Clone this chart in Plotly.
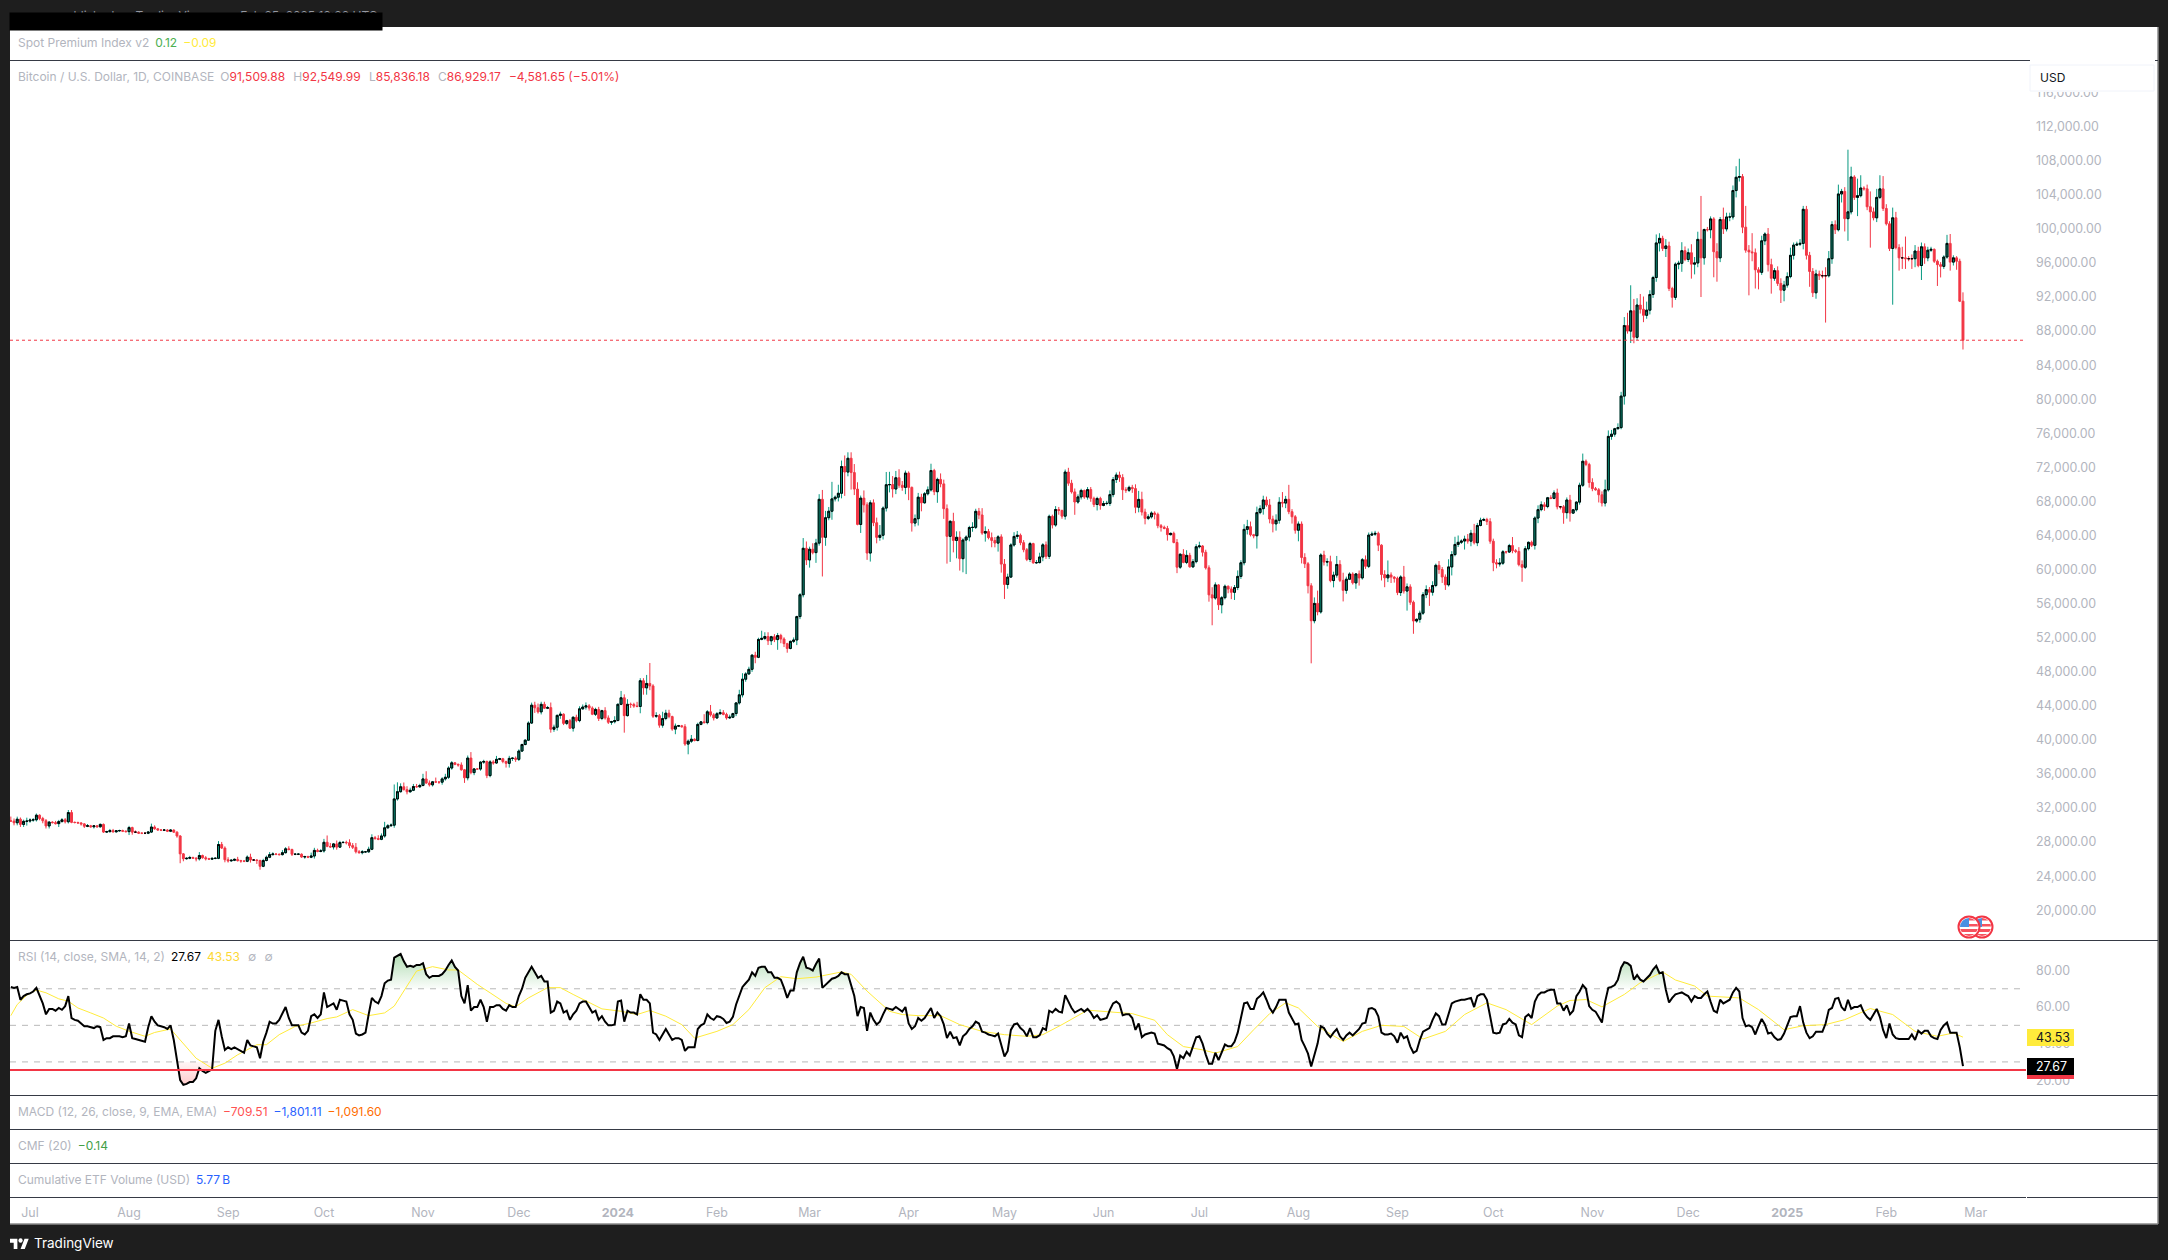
import base64
import numpy as np
import pandas as pd
import plotly.graph_objects as go

W, H = 2168, 1260
first_day = "2023-06-25"
tick_epoch = "2023-07-01"

# Daily closes, thousands of USD, read month by month
closes_2023 = [
 30.47,30.27,30.69,30.08,30.44,30.47,
 30.59,30.62,31.16,30.77,30.51,29.9,30.35,30.29,30.17,30.41, 30.62,30.39,31.47,30.32,30.3,30.25,30.14,29.86,29.92,29.8, 29.91,29.8,30.08,29.18,29.23,29.35,29.21,29.32,29.36,29.28,29.23,
 29.71,29.17,29.17,29.05,29.04,29.04,29.18,29.77,29.56,29.43, 29.4,29.42,29.28,29.41,29.17,28.72,26.62,26.05,26.1,26.19, 26.12,26.04,26.43,26.16,26.05,26.0,26.09,26.1,27.72,27.3,25.93,
 25.8,25.87,25.97,25.82,25.78,25.75,26.24,25.9,25.9,25.84, 25.16,25.84,26.22,26.53,26.6,26.57,26.53,26.76,27.21,27.13, 26.57,26.58,26.58,26.25,26.3,26.22,26.37,27.03,26.91,26.97,
 27.98,27.5,27.43,27.79,27.41,27.95,27.97,27.93,27.59,27.39, 26.87,26.76,26.86,26.86,27.16,28.52,28.41,28.33,28.72,29.68, 29.92,29.99,33.07,33.92,34.5,34.16,33.91,34.09,34.53,34.49,34.65,
 35.42,34.94,34.73,35.08,35.05,35.04,35.42,35.62,36.7,37.31, 37.13,37.06,36.49,35.55,37.87,36.16,36.59,36.58,37.39,37.47, 35.81,37.42,37.29,37.72,37.79,37.46,37.25,37.83,37.85,37.72,
 38.69,39.46,39.97,41.98,44.08,43.77,43.29,44.18,43.72,43.79, 41.25,41.49,42.88,43.02,41.94,42.26,41.38,42.66,42.27,43.65, 43.86,44.0,43.74,43.01,43.58,42.52,43.44,42.58,42.07,42.14,42.28,
]
closes_2024 = [
 44.18,44.95,42.85,44.18,44.16,43.97,43.93,46.95,46.11,46.63, 46.34,42.78,42.85,41.73,42.51,43.14,42.74,41.27,41.62,41.66, 41.55,39.51,39.85,40.08,39.93,41.82,42.12,42.03,43.3,42.94,42.58,
 43.07,43.2,42.99,42.58,42.66,43.09,44.34,45.29,47.13,47.75, 48.29,49.95,49.7,51.8,51.92,52.14,51.64,52.12,51.78,52.26, 51.85,51.3,50.74,51.57,51.73,54.48,57.04,62.5,61.13,
 62.39,61.99,63.11,68.25,63.79,66.09,66.85,68.3,68.5,68.96, 72.1,71.45,73.07,71.39,69.45,65.3,68.39,67.6,61.94,67.84, 65.5,63.78,64.03,67.22,69.96,69.98,69.46,70.78,69.9,69.65,71.33,
 69.65,65.46,65.97,68.5,67.84,68.9,69.36,71.63,69.14,70.59, 70.06,67.15,63.9,65.67,63.42,63.79,61.28,63.47,63.82,64.94, 64.96,66.84,66.41,64.28,64.47,63.75,63.42,63.11,63.84,60.64,
 58.25,59.12,62.89,63.89,64.03,63.16,62.33,61.19,63.05,60.79, 60.82,61.48,62.9,61.55,66.25,65.23,67.05,66.94,66.27,71.45, 70.14,69.12,67.93,68.53,69.29,68.51,69.39,68.36,67.64,68.35,67.53,
 67.76,67.77,68.8,70.57,71.1,70.8,69.37,69.31,69.65,69.51, 67.32,68.24,66.75,66.01,66.19,66.64,66.49,65.15,64.96,64.83, 64.1,64.25,63.18,60.28,61.8,60.84,61.67,60.32,60.93,62.68,
 62.77,62.03,60.2,57.03,56.66,58.2,55.86,56.7,58.04,57.72, 57.33,57.89,59.2,60.8,64.72,65.04,64.09,63.97,66.69,67.15, 68.17,67.58,65.93,65.37,65.79,67.9,67.81,68.25,66.8,66.2,64.62,
 65.35,61.42,60.68,58.1,53.99,56.03,55.03,61.71,60.88,60.93, 58.71,59.35,60.6,58.73,57.56,58.87,59.48,58.44,59.49,59.02, 61.16,60.38,64.05,64.16,64.25,62.87,59.42,59.03,59.37,59.12,58.97,
 57.3,59.13,57.48,57.97,56.16,53.96,54.16,54.88,57.05,57.65, 57.34,58.13,60.5,60.0,59.13,58.21,60.31,61.76,62.95,63.2, 63.35,63.58,63.34,64.26,63.15,65.18,65.79,65.88,65.63,63.33,
 60.81,60.65,60.75,62.09,62.06,62.82,62.22,62.13,60.58,60.27, 62.45,63.2,62.85,66.05,67.04,67.61,67.4,68.43,68.36,69.0, 67.37,67.37,66.68,68.17,66.63,67.02,67.92,69.9,72.72,72.34,70.22,
 69.5,69.37,68.78,67.81,69.36,75.64,75.9,76.54,76.67,80.37, 88.65,88.0,90.38,87.27,91.06,90.56,89.85,90.46,92.3,94.29, 98.35,98.89,97.7,98.0,93.0,91.96,95.86,95.96,97.44,96.41,
 97.2,95.86,96.0,98.77,96.6,99.93,99.9,101.17,97.32,96.6, 101.1,100.0,101.4,101.4,104.5,106.06,106.14,100.2,97.5,97.3, 97.2,95.2,94.9,98.6,99.4,95.8,94.2,95.1,93.6,92.8,93.4,
]
closes_2025 = [
 94.4,96.9,98.1,98.2,98.3,102.3,96.9,95.0,92.5,94.7, 94.5,94.5,94.5,96.5,100.5,99.9,104.1,104.4,101.2,102.0, 106.1,103.7,103.9,104.8,104.7,102.6,102.0,101.3,103.7,104.7,102.4,
 100.6,97.7,101.3,97.8,96.6,96.6,96.5,96.5,96.5,97.4, 95.7,97.9,96.6,97.5,97.6,96.2,95.8,95.6,96.7,98.3, 96.1,96.6,96.2,91.51,86.93,
]
# Upper wick above the body, thousands of USD
upper_2023 = [
 .5,.3,.3,.2,.2,.4,
 .2,.2,.2,.1,.2,.2,.1,.1,.2,.2, .2,.2,.3,.3,.1,.1,.1,.1,.2,.1, .1,.1,.1,.1,.1,.2,.2,.1,.1,.1,.1,
 .2,.1,.2,.1,.1,.1,.1,.4,.2,.1, .1,.1,.1,.1,.1,.1,.1,.1,.1,.2, .1,.1,.4,.1,.2,.1,.1,.1,.4,.3,.2,
 .3,.1,.1,.3,.1,.1,.2,.4,.1,.1, .1,.2,.2,.3,.2,.1,.1,.3,.2,.3, .1,.1,.1,.1,.1,.1,.4,.3,.2,.2,
 .4,.8,.4,.1,.4,.2,.1,.2,.4,.3, .5,.2,.2,.1,.3,.4,.2,.4,.3,.7, .2,.2,1.7,1.1,.4,.5,.4,.3,.3,.3,.2,
 .6,.9,.3,.1,.5,.1,.2,.4,.2,.2, .1,.1,.3,.1,.3,.7,.1,.1,.1,.2, .1,.2,.2,.4,.1,.1,.1,.3,.1,.2,
 .2,.1,.1,.2,.3,.4,.5,.3,.3,.2, .6,.3,.1,.3,.1,.1,.2,.1,.3,.3, .3,.4,.2,.2,.2,.3,.1,.4,.3,.1,.5,
]
upper_2024 = [
 .1,.8,.4,.6,.2,.2,.5,.3,.3,1.0, 2.4,.2,.4,.2,.8,.4,.4,.1,.3,.1, .1,.3,.2,.5,.1,.2,.1,.9,.2,.8,.2,
 .2,.4,.3,.2,.3,.1,.1,.6,.7,.2, .3,.1,.4,.2,.9,.5,.5,.1,.3,.3, .2,.2,.1,.1,.3,.1,.2,1.2,.8,
 .3,.7,.5,.6,1.1,.8,.5,2.0,.2,1.0, .7,1.3,.7,.7,1.0,.8,.3,.9,.3,.3, .4,.6,1.2,.2,1.5,1.5,1.0,.8,1.0,.5,.3,
 .2,.1,.5,.5,.4,.2,.4,.8,.2,.2, .7,.5,.5,.1,1.0,.7,.7,.2,.2,.2, .6,.3,.4,.8,.6,.3,.6,.4,.2,.3,
 .6,.4,.2,.5,.5,.2,.3,.2,.2,.1, .3,.5,.2,.4,.2,.2,.4,.3,.1,.3, .5,.4,.4,.3,.2,.1,.3,.3,.2,.2,.2,
 .3,.3,.5,.3,.3,.4,.4,.3,.2,.3, .5,1.0,.9,.4,.3,.2,.2,.2,.2,.2, .3,.1,.2,.4,.1,.6,.6,.3,.3,.3,
 .5,.1,.3,.3,.9,.3,.1,.2,.2,.1, .3,.3,.7,.3,.6,.8,.6,.1,.7,.4, .5,.4,.7,.4,.7,.6,1.2,.4,1.7,.3,.2,
 .3,.3,.5,.2,.3,.7,1.5,.2,.5,.4, .7,.4,1.0,.5,.9,.3,.2,.2,.1,.4, .2,.5,.3,.3,.3,.2,.1,.5,1.7,.3,.1,
 .2,.2,1.3,.4,.3,.2,.1,.3,.3,.5, .3,.5,.2,.5,.3,.3,.9,.4,.9,.8, .2,.4,.6,.4,1.1,.3,.3,.2,.2,.4,
 .3,.4,.6,.2,.1,.2,1.0,.2,.5,.5, .3,.1,.2,.2,.5,.4,.3,.1,.3,.3, .5,.1,.2,.3,.6,.1,.1,.3,.9,.2,.2,
 .5,.2,.2,.4,1.2,.7,.5,.1,.5,.5, 1.0,1.5,3.0,1.4,.8,1.3,1.5,1.0,.5,.2, 1.0,.6,.3,.8,.5,.2,.2,.3,1.0,.5,
 .5,1.0,.7,.9,5.1,.1,.3,.3,.2,1.0, .3,1.4,.5,.5,.6,1.3,2.1,.3,2.5,.6, 2.2,.5,.3,.6,.2,.7,.7,.3,.5,.6,.5,
]
upper_2025 = [
 .5,.9,.3,.3,.5,.4,.4,.4,.4,.5, .4,.6,1.0,.9,.4,.5,1.1,.3,.5,7.3, 1.2,.2,2.0,1.5,.2,.5,1.8,.5,1.0,1.6,1.5,
 .5,.3,1.2,.7,.4,1.3,2.5,.3,.5,.7, .5,.5,.4,.4,.3,.1,.2,.3,.2,1.0, 1.1,.3,.2,.3,1.04,
]
# Lower wick below the body, thousands of USD
lower_2023 = [
 .1,.3,.3,.3,.3,.5,
 .2,.2,.2,.2,.3,.3,.3,.1,.1,.4, .1,.2,.2,.1,.1,.1,.2,.2,.1,.1, .2,.1,.1,.1,.1,.1,.1,.1,.1,.1,.1,
 .4,.3,.1,.1,.1,.1,.1,.1,.1,.1, .1,.1,.1,.1,.1,.2,1.1,.3,.1,.1, .1,.3,.2,.1,.2,.1,.1,.1,.1,.1,.3,
 .2,.1,.1,.1,.2,.1,.1,.3,.1,.4, .4,.1,.1,.1,.1,.1,.1,.1,.1,.1, .2,.1,.1,.1,.2,.1,.1,.3,.1,.1,
 .2,.1,.1,.3,.3,.1,.1,.2,.3,.2, .2,.1,.2,.1,.1,.1,.1,.1,.1,.2, .1,.1,.3,.2,.1,.1,.3,.1,.1,.1,.1,
 .1,.1,.2,.2,.1,.2,.3,.2,.2,.2, .1,.2,.1,.6,.3,.2,.3,.1,.2,.2, .3,.2,.2,.1,.1,.2,.5,.5,.3,.3,
 .2,.1,.1,.1,.1,.6,.2,.3,.1,.1, .4,.3,.4,.4,.2,.2,.1,.4,.2,.2, .1,.3,.3,.1,.2,.3,.2,.2,.2,.3,.2,
]
lower_2024 = [
 .1,.1,2.0,.1,.4,.2,.1,.8,.8,.8, .5,.2,.2,.3,.3,.2,.2,.2,.6,.1, .1,.2,1.2,.2,.1,.1,.1,.1,.2,.2,.3,
 .1,.1,.1,.2,.1,.1,.3,.2,.3,.3, .1,.3,.7,.1,.1,.2,.5,.5,.3,1.2, .5,.4,.5,.1,.2,.6,.3,.3,.6,
 .9,.2,1.2,.3,4.6,1.0,.3,1.0,.3,.5, .6,2.8,.5,2.0,.7,.1,1.0,.9,.8,1.0, .4,.7,.4,.5,.4,.9,1.0,.6,.3,.4,.8,
 1.5,1.0,.4,.8,1.0,.1,.2,.2,.4,1.3, .4,1.2,3.2,3.0,1.4,2.1,1.4,1.6,4.0,.5, .5,.2,.5,.2,1.0,.2,.8,.5,1.0,1.0,
 1.7,.5,.1,.2,.3,.3,.3,.2,.3,.1, .1,.1,.5,.3,.3,.4,.2,.5,.3,.4, .3,.2,1.5,.2,.3,.2,.3,.4,.3,.7,.5,
 .1,.2,.3,.3,.4,.5,1.2,.3,.2,.5, .7,.6,.4,.7,.2,.2,.6,.3,.5,.1, .7,.1,.1,.7,.2,.1,.2,.1,.1,.2,
 .2,.5,.2,.8,3.2,.2,.6,1.0,.2,.5, .8,.9,.3,.3,.3,.6,.2,.3,1.5,.2, .7,.2,.5,1.0,.8,.4,.5,.6,.3,.8,.4,
 1.3,.7,.5,.9,5.0,.3,.4,.2,.4,.5, .2,.8,.3,.2,1.3,.4,.1,.2,.7,.9, .2,.3,.2,.1,.2,.7,.7,1.1,.5,.7,.5,
 .3,.4,.3,2.3,.3,1.5,.2,.4,.2,.4, 1.6,.4,.2,.5,.7,.6,.2,1.0,.2,.3, .2,1.0,.3,.6,.2,.4,.1,.1,.4,.3,
 1.0,.5,.3,.2,.2,.1,.3,.2,.2,1.7, .2,.2,.2,.5,.6,.2,.5,.2,.1,.1, .3,.3,1.3,.7,1.0,.1,.2,.3,.2,.2,.6,
 .3,.1,.9,.4,.4,.2,.4,.3,.1,.2, 1.0,.3,1.4,.7,.3,.5,.8,.4,.5,.4, .5,1.0,.3,1.0,.3,1.2,.3,.6,1.0,.2,
 .3,1.7,1.2,.5,4.6,.8,.2,1.0,3.0,2.8, .5,.6,.3,.5,.3,.8,.5,.7,.3,5.1, 1.0,2.2,2.0,.3,.5,.8,1.8,.3,.3,1.5,1.3,
]
lower_2025 = [
 .3,.2,.5,.1,.2,.7,.5,1.8,.5,.7, .5,.3,5.5,.2,.6,.5,.2,1.0,1.5,2.6, .3,.3,2.2,.2,.2,.4,4.2,.3,.5,.2,.3,
 .2,.3,6.6,.2,1.5,1.3,1.2,.3,1.2,1.0, .2,1.7,.7,.4,.2,.2,2.5,1.3,.3,.2, 1.0,.4,1.0,.1,1.09,
]
# RSI line, one reading per day
rsi_values = [
 71,70.5,71,64,66,67,
 67.5,68.5,70.5,66,62,56,59,59,58,59.5,
 58.5,60.5,66,54,53,52.5,51,49.5,49.5,49,
 48.5,49.5,49,42,43,43,44,44,44,43.5,
 44,51,43,42.5,42,41.5,41,49,55,52,
 50,49.5,49,48,50,42,30,20,17.5,18,
 19,19,21,26.5,25,24,25,26,47,53,
 44,36.5,38,37,38,37,36,35,42,39,
 38.5,38,32,41,46,52,51,51,53,57,
 60,54,50,50,50,46,45,47,55,56,
 54,56,68,60,61,62,58.5,64,63.5,63,
 56,53,45.5,44.5,45,46,56,65,63,62,
 66,73,74.5,75,87,88,89,85,82,82.5,
 82,83,83,84,78,76,77,77,77,78,
 80,83,85.5,82,80,66,62,72,58,60,
 60,64,60,52,60,60,61,61,59,58,
 61,60,60,66,70,76,79,82,79,76,
 77,74,74,57,58,63,62,57,58,53,
 56,58,62,63,63,60,57,58,53,55,
 52,50,50,50.5,63,63.5,52,58,57,57,
 56,67,64,64,62,46,45,42,45,48,
 45,42,43,43,42,36,38,38,38,48,
 50,51,56,54,53,55,
 54.6,53.5,51.3,52,54.6,61.4,66,71,73,75,
 79,77,81.5,82,82,79,79,76,76,75,
 70.5,65,69,69,79,84,87.5,81.5,81,80,
 83.5,86.5,70.5,72,74,75.5,76,77,79,78,
 78,72,66,55,60,59.5,47,57,53,50.5,
 52,56,59.5,59,58.5,60,58.5,57.5,60,51,
 48,49.5,54,52.5,54,57,59.5,54,57,55,
 50.5,43,46.5,43,43.5,39,44,45.5,48,49.5,
 52,51,46.5,46,45,44.5,44,45.5,39,33,
 36,47.5,50.5,51,48.5,47,44,48.5,43.5,43.5,
 44.5,48.5,47.5,58,57,59,57.5,57,66.5,63,
 59.5,57,58,59,57.5,59,57,54,55.5,53,
 53.5,54,58.5,62,63,61.5,55.5,56,56,54,
 47.5,51,43.5,45,45.5,46,45.5,40,39.5,39,
 37.5,36.5,33,26,33.5,32,35.5,33.5,38.5,43.5,
 44,40,34,29,29,35,31,35,39.5,38.5,
 38.5,41,46,54,62,62.5,59,59,64.5,66,
 68,64,59.5,57,60,64,64,64,57,53.5,
 50.5,51,42,38.5,34.5,27.5,34,40,49.5,48.5,
 45.5,43.5,46,48,44,42,44.5,46,44.5,46.5,
 48,51,51.5,59,59.5,58.5,55,46,45,45,
 45.5,44,40.5,46,43,44,38.5,35,36,42,
 46.5,47.5,48.5,53,56.5,55,
 50.4,50.4,56,62,63,63.5,64,64,64.5,65,
 60,66,67,67,64,54,46,45.5,46,50.5,
 51,53.5,51.5,50.5,44.5,43.5,54.5,56,54,63,
 66.5,68,68,69,69.5,69.5,62,62,58,61,
 56,58,66,68.5,72,70,60.5,58.5,57.5,54.5,
 51.5,63,70.5,71,72,75,81.5,84.5,84,82.5,
 75,77.5,75,74,76,77.5,80.5,82.5,78.5,79,
 69.5,62.5,65,67,67.5,68,67,66,63,66,
 65,65,67,68.5,63,58,57,64,62,63,
 64,68,70.5,68.5,54,49.5,50,49,45,49.5,
 53.5,50.5,45.5,46,43.5,42,42.5,45.5,50.5,54.5,
 55,55,60.5,51.5,46,43,44,46.5,46.5,46.5,
 51,58.5,59.5,64.5,65,60,58,64,59,60,
 60,61,57,54.5,53,56,59,54.5,47.5,43,
 51,45,43,42.5,42.5,42.5,42.5,45,42,47,
 45.5,47,47,44,43,42.5,47.5,50,51.5,46,
 46,46,38,27.67,
]
# RSI moving-average line: readings taken at these day offsets from tick_epoch
rsi_ma_days = [-6,-4,-1,2,5,9,12,15,19,23,27,31,36,39,44,48,52,57,61,65,71,74,78,83,88,93,96,101,106,111,114,118,121,126,131,134,140,144,149,152,156,162,166,170,174,179,185,190,194,199,204,208,215,
 220,225,230,235,240,246,254,257,262,269,273,278,285,291,298,305,312,317,323,331,338,345,352,356,361,367,371,378,383,388,393,397,403,411,417,423,430,436,
 443,449,456,462,470,478,482,487,492,499,504,511,515,521,525,535,541,549,555,562,568,576,583,590,597,602,605]
rsi_ma_vals = [55.3,61.4,66.5,69.3,67.8,64.5,63.2,59.5,56.8,54,49.5,46.8,44,46.1,48,40.3,32,26.5,29.3,33.9,39.4,39.4,44.9,49.4,51.3,53.7,54.6,58.6,55.3,56.8,60.5,71.5,79.7,82.1,80.3,80.3,72.4,67.8,62,60.1,65,70.6,70.6,66.9,63.2,59,57.7,55.9,58.1,55,50.4,43,46.7,
 50.4,58.6,70.6,76.6,75.5,76.4,79.2,77.9,68.7,57.7,55.9,55.3,55.3,50.4,46.7,44.9,44,44.9,50.4,58.3,57.2,56.4,52.8,44.9,38.4,36.6,34.8,38.4,47.6,56.4,62.3,59.5,49.4,41.2,46.7,50,49.4,42.5,
 46.7,55.9,62.3,58.6,50.4,60.5,63.6,64.1,60.1,66.9,73.3,79.2,74.8,71.5,66,65,58.6,47.6,49.8,50.4,53.1,59.2,55.9,46.7,44,45.8,43.53]

tick_dates = ["2023-07-01","2023-08-01","2023-09-01","2023-10-01","2023-11-01","2023-12-01","2024-01-01","2024-02-01","2024-03-01","2024-04-01","2024-05-01","2024-06-01","2024-07-01","2024-08-01","2024-09-01","2024-10-01","2024-11-01","2024-12-01","2025-01-01","2025-02-01","2025-03-01"]
tick_labels = ["Jul","Aug","Sep","Oct","Nov","Dec","<b>2024</b>","Feb","Mar","Apr","May","Jun","Jul","Aug","Sep","Oct","Nov","Dec","<b>2025</b>","Feb","Mar"]
price_ticks = [20000 + 4000 * i for i in range(25)]
rsi_ticks = [20, 40, 60, 80]
last_close = 86929.17
rsi_bands = [30, 50, 70]
rsi_floor = 25.6

closes = np.array(closes_2023 + closes_2024 + closes_2025) * 1000
upper = np.array(upper_2023 + upper_2024 + upper_2025) * 1000
lower = np.array(lower_2023 + lower_2024 + lower_2025) * 1000
rsi = np.array(rsi_values, dtype=float)
n = len(closes)
assert n == len(upper) == len(lower) == len(rsi), (n, len(upper), len(lower), len(rsi))
dates = pd.date_range(first_day, periods=n, freq="D")
opens = np.r_[30500.0, closes[:-1]]
highs = np.maximum(opens, closes) + upper
lows = np.minimum(opens, closes) - lower
up = closes >= opens

GREEN, RED, GRAY, LINE = "#089981", "#f23645", "#b2b5be", "#363a45"
FONT = "Inter"
X0, X1 = 10, 2026
SCALE_DAY = 3.195
epoch = pd.Timestamp(tick_epoch)
day_at = lambda px: epoch + pd.Timedelta(days=(px - 30) / SCALE_DAY)
px = lambda x: x / W
py = lambda y: 1 - y / H

fig = go.Figure()
fig.add_trace(go.Candlestick(x=dates, open=opens, high=highs, low=lows, close=closes,
    increasing=dict(line=dict(color=GREEN, width=1), fillcolor=GREEN),
    decreasing=dict(line=dict(color=RED, width=1), fillcolor=RED), hoverinfo="skip"))
fig.add_trace(go.Candlestick(x=dates[up], open=opens[up], high=closes[up], low=opens[up], close=closes[up],
    increasing=dict(line=dict(color="#000000", width=1), fillcolor=GREEN),
    decreasing=dict(line=dict(color="#000000", width=1), fillcolor=GREEN), hoverinfo="skip"))

# RSI panel
y2 = dict(xaxis="x", yaxis="y2", hoverinfo="skip", showlegend=False)
fig.add_trace(go.Scatter(x=dates, y=np.full(n, 70.0), mode="lines", line=dict(width=0), **y2))
fig.add_trace(go.Scatter(x=dates, y=np.maximum(rsi, 70), mode="lines", line=dict(width=0), fill="tonexty",
    fillgradient=dict(type="vertical", start=92, stop=70,
        colorscale=[[0, "rgba(76,175,80,0.5)"], [1, "rgba(76,175,80,0.02)"]]), **y2))
fig.add_trace(go.Scatter(x=dates, y=np.full(n, 30.0), mode="lines", line=dict(width=0), **y2))
fig.add_trace(go.Scatter(x=dates, y=np.minimum(rsi, 30), mode="lines", line=dict(width=0), fill="tonexty",
    fillgradient=dict(type="vertical", start=30, stop=15,
        colorscale=[[0, "rgba(255,82,82,0.05)"], [1, "rgba(255,82,82,0.35)"]]), **y2))
ma_dates = [epoch + pd.Timedelta(days=d) for d in rsi_ma_days]
fig.add_trace(go.Scatter(x=ma_dates, y=rsi_ma_vals, mode="lines", line=dict(color="#ffeb3b", width=1), **y2))
fig.add_trace(go.Scatter(x=dates, y=rsi, mode="lines", line=dict(color="#000000", width=2), **y2))

axis_font = dict(family=FONT, size=12.4, color=GRAY)
shapes = [
    dict(type="rect", xref="paper", yref="paper", x0=px(10), x1=px(2158), y0=py(27), y1=py(1224),
         fillcolor="#ffffff", line=dict(width=0), layer="below"),
    dict(type="line", xref="paper", yref="paper", x0=px(2158), x1=px(2158), y0=py(27), y1=py(1224), line=dict(color="#8a8a8a", width=1.5), layer="above"),
    dict(type="line", xref="paper", yref="paper", x0=px(10), x1=px(2158), y0=py(1224), y1=py(1224), line=dict(color="#8a8a8a", width=1.5), layer="above"),
]
for y in (60.5, 940.5, 1095.5, 1129.5, 1163.5):
    shapes.append(dict(type="line", xref="paper", yref="paper", x0=px(10), x1=px(2158), y0=py(y), y1=py(y), line=dict(color=LINE, width=1), layer="above"))
for a, b in ((10, 2026), (2027, 2158)):
    shapes.append(dict(type="line", xref="paper", yref="paper", x0=px(a), x1=px(b), y0=py(1197.5), y1=py(1197.5), line=dict(color=LINE, width=1), layer="above"))
shapes.append(dict(type="line", xref="paper", yref="y", x0=px(X0), x1=px(2024), y0=last_close, y1=last_close, line=dict(color=RED, width=1, dash="dot"), layer="above"))
for v in rsi_bands:
    shapes.append(dict(type="line", xref="paper", yref="y2", x0=px(X0), x1=px(2025), y0=v, y1=v, line=dict(color="#b8b8b8", width=1, dash="6px,6px"), layer="below"))
shapes.append(dict(type="line", xref="paper", yref="y2", x0=px(X0), x1=px(2026), y0=rsi_floor, y1=rsi_floor, line=dict(color=RED, width=2), layer="above"))
# price-scale badges and the USD box cover the axis labels beneath them
def box(x0, y0, x1, y1, fill, line="rgba(0,0,0,0)"):
    return dict(type="rect", xref="paper", yref="paper", x0=px(x0), x1=px(x1), y0=py(y0), y1=py(y1), fillcolor=fill, line=dict(color=line, width=1), layer="above")
shapes += [
    box(2027, 1029, 2074, 1046, "#ffeb3b"),
    box(2027, 1075, 2074, 1079, RED),
    box(2027, 1058, 2074, 1075, "#000000"),
    box(2030, 60, 2155, 92, "#ffffff"),
    box(2030, 65, 2154, 91, "#ffffff", "#f0f3fa"),
]

def label(x, y, text, size=12, color=GRAY, anchor="left", **kw):
    return dict(xref="paper", yref="paper", x=px(x), y=py(y), text=text, showarrow=False, xanchor=anchor, yanchor="middle",
                align="left", font=dict(family=FONT, size=size, color=color), borderpad=0, **kw)
span = lambda c, t: f'<span style="color:{c}">{t}</span>'
gap = "\u2002"
wide = "\u2002\u2009"
annotations = [
    label(58, 15.5, "published on TradingView.com, Feb 25, 2025 19:38 UTC", color="#9598a1"),
    dict(xref="paper", yref="paper", x=px(9), y=py(11.7), xanchor="left", yanchor="top", text=" ", width=372, height=17, bgcolor="#000000", showarrow=False, borderpad=0),
    label(17, 42.7, "Spot Premium Index v2" + gap + span("#4caf50", "0.12") + gap + span("#ffeb3b", "\u22120.09")),
    label(17, 76.5, "Bitcoin / U.S. Dollar, 1D, COINBASE" + gap + "O" + span(RED, "91,509.88") + wide + "H" + span(RED, "92,549.99") + wide + "L" + span(RED, "85,836.18") + wide + "C" + span(RED, "86,929.17") + wide + span(RED, "\u22124,581.65 (\u22125.01%)")),
    label(17, 956.7, "RSI (14, close, SMA, 14, 2)" + gap + span("#000000", "27.67") + gap + span("#fdd835", "43.53") + wide + "\u2205" + wide + "\u2205"),
    label(17, 1111.7, "MACD (12, 26, close, 9, EMA, EMA)" + gap + span("#ff5252", "\u2212709.51") + gap + span("#2962ff", "\u22121,801.11") + gap + span("#ff6d00", "\u22121,091.60")),
    label(17, 1145.7, "CMF (20)" + gap + span("#43a047", "\u22120.14")),
    label(17, 1179.7, "Cumulative ETF Volume (USD)" + gap + span("#2962ff", "5.77\u202fB")),
    label(2039, 77.5, "USD", color="#131722"),
    label(2035, 1037.5, "43.53", size=12.4, color="#131722"),
    label(2035, 1066.5, "27.67", size=12.4, color="#ffffff"),
    label(33, 1243, "TradingView", size=13.5, color="#ffffff"),
]

def svg_uri(svg):
    return "data:image/svg+xml;base64," + base64.b64encode(svg.encode()).decode()
logo = '<svg xmlns="http://www.w3.org/2000/svg" viewBox="0 0 36 22"><path fill="#fff" d="M14 22H7V11H0V4h14v18zM28 22h-8l7.5-18h8L28 22z"/><circle fill="#fff" cx="20" cy="7" r="4"/></svg>'
def flag(cid):
    return (f'<clipPath id="{cid}"><circle cx="12" cy="12" r="9"/></clipPath>'
            '<circle cx="12" cy="12" r="10.5" fill="#fff" stroke="#f23645" stroke-width="2"/>'
            f'<g clip-path="url(#{cid})"><rect x="3" y="14" width="18" height="3" fill="#f7525f"/><rect x="3" y="19" width="18" height="3" fill="#f7525f"/>'
            '<rect x="12" y="9" width="9" height="2.5" fill="#f7525f"/><rect x="12" y="3" width="9" height="2.5" fill="#f7525f"/>'
            '<rect x="3" y="3" width="9" height="9" fill="#4a90e2"/></g>')
flags = ('<svg xmlns="http://www.w3.org/2000/svg" viewBox="0 0 38 24">'
         '<g transform="translate(13 0)">' + flag("b") + '</g>' + flag("a") + '</svg>')
images = [
    dict(source=svg_uri(logo), xref="paper", yref="paper", x=px(10), y=py(1236.5), sizex=px(19), sizey=12.5 / H, xanchor="left", yanchor="top", sizing="stretch", layer="above"),
    dict(source=svg_uri(flags), xref="paper", yref="paper", x=px(1957), y=py(915), sizex=px(38), sizey=24 / H, xanchor="left", yanchor="top", sizing="stretch", layer="above"),
]

fig.update_layout(
    width=W, height=H, margin=dict(l=0, r=0, t=0, b=0), paper_bgcolor="#1e1e1e", plot_bgcolor="rgba(0,0,0,0)",
    showlegend=False, hovermode=False, dragmode=False, boxgap=0.15,
    shapes=shapes, annotations=annotations, images=images,
    font=dict(family=FONT),
    xaxis=dict(domain=[px(X0), px(X1)], range=[day_at(X0), day_at(X1)], type="date", anchor="free", position=py(1197),
               rangeslider=dict(visible=False), showgrid=False, zeroline=False, showline=False,
               tickmode="array", tickvals=tick_dates, ticktext=tick_labels, ticks="", ticklabelstandoff=7, tickfont=axis_font, tickangle=0),
    yaxis=dict(domain=[py(940), py(60.5)], range=[16507, 119772], side="right", anchor="x", showgrid=False, zeroline=False, showline=False,
               tickmode="array", tickvals=price_ticks, tickformat=",.2f", ticks="", ticklabelstandoff=9, tickfont=axis_font),
    yaxis2=dict(domain=[py(1095), py(940.5)], range=[11.9, 96.4], side="right", anchor="x", showgrid=False, zeroline=False, showline=False,
                tickmode="array", tickvals=rsi_ticks, tickformat=".2f", ticks="", ticklabelstandoff=9, tickfont=axis_font),
)

fig.write_html("out.html", config=dict(displayModeBar=False, staticPlot=False),
               post_script="document.body.style.margin='0';document.body.style.background='#1e1e1e';document.body.style.overflow='hidden';")
